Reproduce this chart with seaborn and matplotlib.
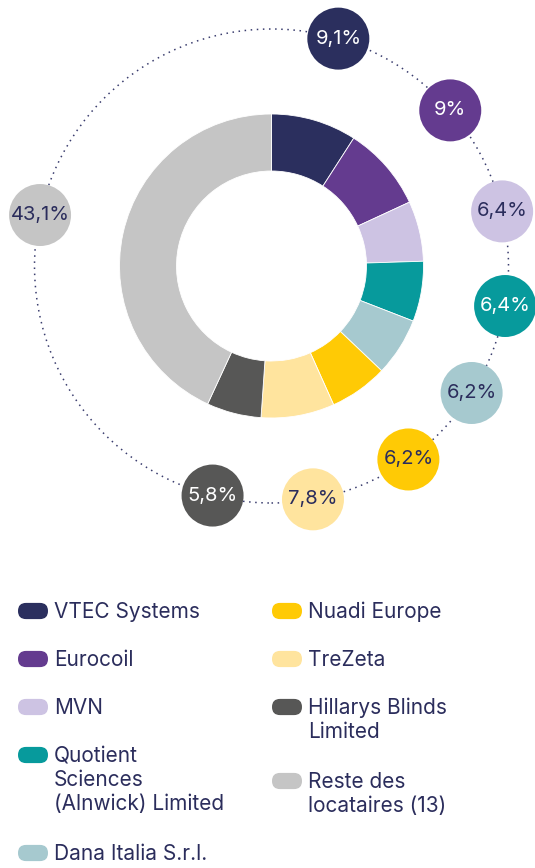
import numpy as np
import pandas as pd
import matplotlib
matplotlib.use("Agg")
import matplotlib.pyplot as plt
import seaborn as sns
from matplotlib.patches import Circle, FancyBboxPatch

# données
tenants = ["VTEC Systems", "Eurocoil", "MVN", "Quotient Sciences (Alnwick) Limited",
           "Dana Italia S.r.l.", "Nuadi Europe", "TreZeta", "Hillarys Blinds Limited",
           "Reste des locataires (13)"]
legend_labels = ["VTEC Systems", "Eurocoil", "MVN", "Quotient\nSciences\n(Alnwick) Limited",
                 "Dana Italia S.r.l.", "Nuadi Europe", "TreZeta", "Hillarys Blinds\nLimited",
                 "Reste des\nlocataires (13)"]
shares = [9.1, 9.0, 6.4, 6.4, 6.2, 6.2, 7.8, 5.8, 43.1]
share_labels = ["9,1%", "9%", "6,4%", "6,4%", "6,2%", "6,2%", "7,8%", "5,8%", "43,1%"]
colors = ["#2b2f5e", "#643b8f", "#cdc3e3", "#079a9c", "#a6c9cf",
          "#ffca05", "#ffe49e", "#575756", "#c5c5c5"]
light_text = [True, True, False, True, False, False, False, True, False]

NAVY = "#2b2d5c"
W, H = 535, 868

sns.set_style("white")
plt.rcParams["font.family"] = ["Inter", "DejaVu Sans"]

fig = plt.figure(figsize=(W / 100, H / 100), dpi=100)
ax = fig.add_axes([0, 0, 1, 1])

cx, cy = 271.5, H - 266
r_out, r_in = 152, 95
r_lab = 237

ax.pie(shares, colors=colors, startangle=90, counterclock=False,
       center=(cx, cy), radius=r_out, frame=True,
       wedgeprops=dict(width=r_out - r_in, edgecolor="white", linewidth=0.6))
ax.set_xlim(0, W)
ax.set_ylim(0, H)
ax.axis("off")

# cercle pointillé
ax.add_patch(Circle((cx, cy), r_lab, fill=False, edgecolor="#3a3d6e",
                    linewidth=1.1, linestyle=(0, (1, 3)), zorder=1))

# étiquettes au milieu des parts
cum = np.cumsum([0] + shares[:-1])
mid = (cum + np.array(shares) / 2) / 100 * 360
theta = np.deg2rad(90 - mid)
lab = pd.DataFrame({"name": tenants,
                    "x": cx + r_lab * np.cos(theta),
                    "y": cy + r_lab * np.sin(theta)})
sns.scatterplot(data=lab, x="x", y="y", hue="name", palette=colors,
                s=(62 * 0.72) ** 2, edgecolor="none", legend=False, ax=ax, zorder=3)
ax.set_xlabel("")
ax.set_ylabel("")
for (x, y), txt, lt in zip(lab[["x", "y"]].values, share_labels, light_text):
    ax.text(x, y, txt, ha="center", va="center", fontsize=14.5,
            color="white" if lt else NAVY, zorder=4)

# légende
rows = [(18, 611, 0), (18, 659, 1), (18, 707, 2), (18, 755, 3), (18, 853, 4),
        (272, 611, 5), (272, 659, 6), (272, 707, 7), (272, 781, 8)]
for x0, yp, i in rows:
    y = H - yp
    ax.add_patch(FancyBboxPatch((x0 + 8, y - 0.1), 14, 0.2,
                                boxstyle="round,pad=8", facecolor=colors[i],
                                edgecolor="none", zorder=2, clip_on=False))
    ax.text(x0 + 36, y + 9, legend_labels[i], ha="left", va="top", fontsize=15,
            color=NAVY, linespacing=1.25)

fig.savefig("out.png", dpi=100)
